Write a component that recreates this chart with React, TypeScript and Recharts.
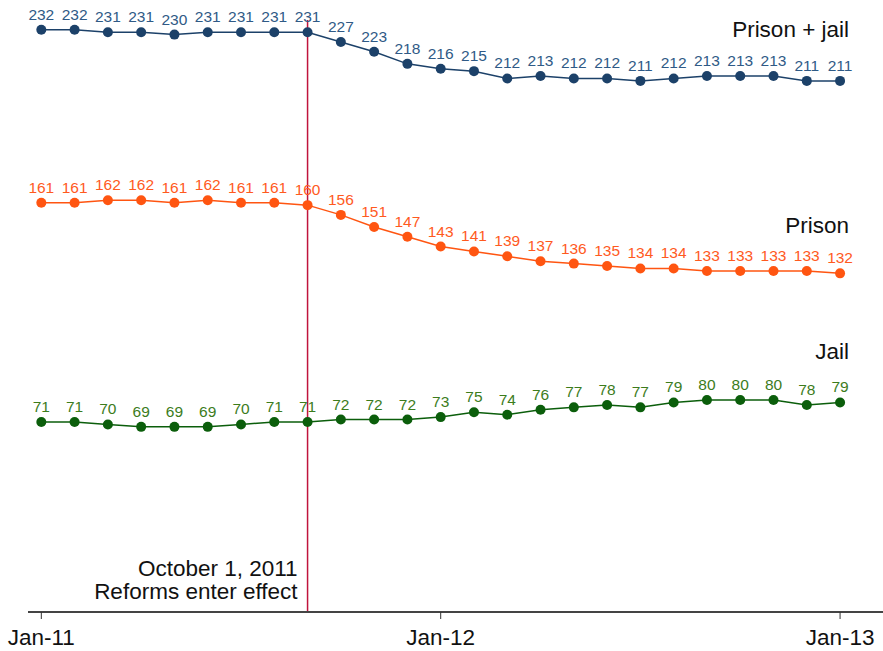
import React from "react";
import { LineChart, Line, XAxis, YAxis, ReferenceLine, LabelList } from "recharts";

const months = [
  "Jan-11", "Feb-11", "Mar-11", "Apr-11", "May-11", "Jun-11", "Jul-11", "Aug-11", "Sep-11",
  "Oct-11", "Nov-11", "Dec-11", "Jan-12", "Feb-12", "Mar-12", "Apr-12", "May-12", "Jun-12",
  "Jul-12", "Aug-12", "Sep-12", "Oct-12", "Nov-12", "Dec-12", "Jan-13",
];
const prisonJail = [232, 232, 231, 231, 230, 231, 231, 231, 231, 227, 223, 218, 216, 215, 212, 213, 212, 212, 211, 212, 213, 213, 213, 211, 211];
const prison = [161, 161, 162, 162, 161, 162, 161, 161, 160, 156, 151, 147, 143, 141, 139, 137, 136, 135, 134, 134, 133, 133, 133, 133, 132];
const jail = [71, 71, 70, 69, 69, 69, 70, 71, 71, 72, 72, 72, 73, 75, 74, 76, 77, 78, 77, 79, 80, 80, 80, 78, 79];
const tickIdx = [0, 12, 24];
const tickLabels = ["Jan-11", "Jan-12", "Jan-13"];
const reformIdx = 8;
const reformText = ["October 1, 2011", "Reforms enter effect"];
const seriesNames = ["Prison + jail", "Prison", "Jail"];

const data = months.map((m, i) => ({
  idx: i,
  month: m,
  prisonJail: prisonJail[i],
  prison: prison[i],
  jail: jail[i],
}));

const FONT = "Arial, 'Liberation Sans', sans-serif";
const BIG = 22.5;

const makeLabel = (color: string, name: string, nameDy: number) => (props: any) => {
  const { x, y, value, index } = props;
  return (
    <g>
      <text x={x} y={y - 10} textAnchor="middle" fontSize={15.5} fill={color} fontFamily={FONT}>
        {value}
      </text>
      {index === months.length - 1 ? (
        <text x={x + 9} y={y + nameDy} textAnchor="end" fontSize={BIG} fill="#111" fontFamily={FONT}>
          {name}
        </text>
      ) : null}
    </g>
  );
};

const ReformLabel = (props: any) => {
  const vb = props.viewBox || {};
  const x = vb.x;
  const bottom = vb.y + vb.height;
  return (
    <g>
      <text x={x - 10} y={bottom - 36} textAnchor="end" fontSize={BIG} fill="#111" fontFamily={FONT}>
        {reformText[0]}
      </text>
      <text x={x - 10} y={bottom - 13} textAnchor="end" fontSize={BIG} fill="#111" fontFamily={FONT}>
        {reformText[1]}
      </text>
    </g>
  );
};

export default function App() {
  return (
    <div style={{ position: "absolute", left: 0, top: 0, background: "#fff" }}>
      <LineChart
        width={883}
        height={651}
        data={data}
        margin={{ top: 20, right: 0, left: 28, bottom: 0 }}
      >
        <XAxis
          dataKey="idx"
          type="number"
          domain={[-0.4, 25.29]}
          allowDataOverflow
          ticks={tickIdx}
          tickFormatter={(v: number) => tickLabels[tickIdx.indexOf(v)] ?? ""}
          height={39}
          tickSize={7}
          tickMargin={10}
          axisLine={{ stroke: "#444", strokeWidth: 2 }}
          tickLine={{ stroke: "#333", strokeWidth: 1 }}
          tick={{ fontSize: BIG, fill: "#111", fontFamily: FONT }}
        />
        <YAxis hide domain={[-7, 236]} allowDataOverflow />
        <ReferenceLine
          x={reformIdx}
          stroke="#c0143c"
          strokeWidth={1.5}
          label={<ReformLabel />}
        />
        <Line
          dataKey="prisonJail"
          stroke="#1c4169"
          strokeWidth={1.5}
          dot={{ r: 5, fill: "#1c4169", stroke: "none" }}
          isAnimationActive={false}
        >
          <LabelList dataKey="prisonJail" content={makeLabel("#2f5a86", seriesNames[0], -44)} />
        </Line>
        <Line
          dataKey="prison"
          stroke="#ff5511"
          strokeWidth={1.5}
          dot={{ r: 5, fill: "#ff5511", stroke: "none" }}
          isAnimationActive={false}
        >
          <LabelList dataKey="prison" content={makeLabel("#ff5a1e", seriesNames[1], -40)} />
        </Line>
        <Line
          dataKey="jail"
          stroke="#0b5e0b"
          strokeWidth={1.5}
          dot={{ r: 5, fill: "#0b5e0b", stroke: "none" }}
          isAnimationActive={false}
        >
          <LabelList dataKey="jail" content={makeLabel("#3c7c1c", seriesNames[2], -43)} />
        </Line>
      </LineChart>
    </div>
  );
}
